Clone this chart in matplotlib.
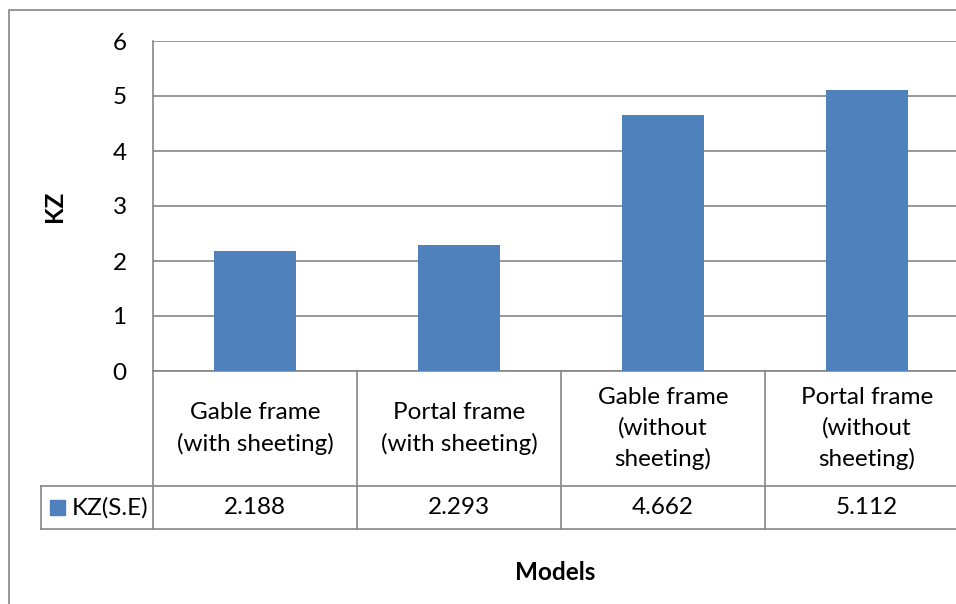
import matplotlib.pyplot as plt
from matplotlib.lines import Line2D
from matplotlib.patches import Rectangle

models = ['Gable frame\n(with sheeting)', 'Portal frame\n(with sheeting)',
          'Gable frame\n(without\nsheeting)', 'Portal frame\n(without\nsheeting)']
kz_se = [2.188, 2.293, 4.662, 5.112]
series_name = 'KZ(S.E)'
yticks = [0, 1, 2, 3, 4, 5, 6]

W, H = 956, 604
bar_color = '#4F81BD'
line_color = '#868686'
fs = 17.5
plt.rcParams['font.family'] = ['Lato', 'DejaVu Sans']

fig = plt.figure(figsize=(W / 100, H / 100), dpi=100)

# plot area in pixels: left 153, right 969 (runs past the edge), top 41, bottom 371
left, right, top, bottom = 153, 969, 41, 371
ax = fig.add_axes([left / W, (H - bottom) / H, (right - left) / W, (bottom - top) / H])

x = list(range(len(models)))
ax.bar(x, kz_se, width=0.4, color=bar_color, zorder=3)
ax.set_xlim(-0.5, len(models) - 0.5)
ax.set_ylim(0, 6)
ax.set_yticks(yticks)
ax.set_yticklabels([str(t) for t in yticks], fontsize=fs)
ax.set_xticks([])
ax.tick_params(axis='y', length=0, pad=19)
ax.yaxis.grid(True, color=line_color, lw=1.2)
ax.set_axisbelow(True)
for s in ['top', 'right', 'bottom']:
    ax.spines[s].set_visible(False)
ax.spines['left'].set_color(line_color)
ax.spines['left'].set_linewidth(1.2)

# data table under the plot: x in data units, y in axes fraction
tr = ax.get_xaxis_transform()
px_y = 1.0 / (bottom - top)
px_x = len(models) / (right - left)
row1 = -(486 - bottom) * px_y
row2 = -(529 - bottom) * px_y
xleft = -0.5 - (left - 41) * px_x
xend = len(models) - 0.5

def seg(xs, ys):
    ax.add_line(Line2D(xs, ys, transform=tr, color=line_color, lw=1.2, clip_on=False))

seg([-0.5, xend], [0, 0])
seg([xleft, xend], [row1, row1])
seg([xleft, xend], [row2, row2])
seg([xleft, xleft], [row1, row2])
for i in range(len(models)):
    seg([i - 0.5, i - 0.5], [0, row2])

for i, (m, v) in enumerate(zip(models, kz_se)):
    ax.text(i, row1 / 2, m, transform=tr, ha='center', va='center',
            fontsize=fs, linespacing=1.5, clip_on=False)
    ax.text(i, (row1 + row2) / 2, f'{v:.3f}', transform=tr, ha='center',
            va='center', fontsize=fs, clip_on=False)

# legend key inside the table
key = 15 * px_x
ax.add_patch(Rectangle((xleft + 9 * px_x, (row1 + row2) / 2 - 7.5 * px_y), key, 15 * px_y,
                       transform=tr, color=bar_color, clip_on=False))
ax.text(xleft + 31 * px_x, (row1 + row2) / 2, series_name, transform=tr,
        ha='left', va='center', fontsize=fs, clip_on=False)

# axis titles
fig.text(55 / W, 1 - 206 / H, 'KZ', rotation=90, ha='center', va='center',
         fontsize=fs, fontweight='bold')
fig.text(555 / W, 1 - 573 / H, 'Models', ha='center', va='center',
         fontsize=fs, fontweight='bold')

# chart frame
fig.add_artist(Rectangle((9 / W, -0.1), 1.2, 1.1 - 10 / H, transform=fig.transFigure,
                         fill=False, edgecolor=line_color, lw=1.2))

fig.savefig('out.png', dpi=100)
